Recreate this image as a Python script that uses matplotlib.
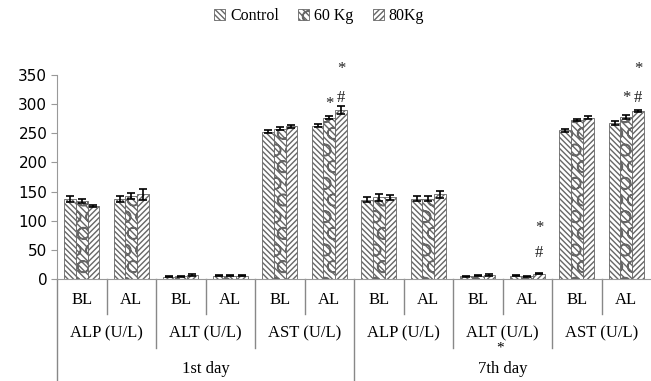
import matplotlib
matplotlib.use("Agg")
import matplotlib.pyplot as plt
import numpy as np

# ---- data ----
series = ["Control", "60 Kg", "80Kg"]
days = ["1st day", "7th day"]
params = ["ALP (U/L)", "ALT (U/L)", "AST (U/L)"]
phases = ["BL", "AL"]

control = [137, 137, 4, 6, 253, 263, 136, 138, 5, 6, 255, 268]
kg60    = [134, 142, 5, 6, 258, 277, 140, 138, 6, 5, 273, 278]
kg80    = [125, 145, 7, 6, 262, 290, 140, 145, 7, 9, 277, 288]
err_control = [5, 5, 1, 1, 3, 3, 4, 4, 1, 1, 3, 3]
err_60      = [4, 5, 1, 1, 3, 3, 6, 4, 1, 1, 2, 3]
err_80      = [2, 9, 1, 1, 3, 7, 4, 6, 1, 1, 3, 2]

# (group index, series index, symbol, height in data units)
annotations = [(5, 1, "*", 300), (5, 2, "#", 310), (5, 2, "*", 360),
               (9, 2, "*", 88), (9, 2, "#", 45),
               (11, 1, "*", 310), (11, 2, "#", 310), (11, 2, "*", 360)]

yticks = [0, 50, 100, 150, 200, 250, 300, 350]

# ---- figure ----
plt.rcParams["hatch.linewidth"] = 1.0
plt.rcParams["hatch.color"] = "#555555"
serif = "Liberation Serif"

fig = plt.figure(figsize=(6.51, 3.81), dpi=100)
ax = fig.add_axes([57/651, (381-279)/381, 1-57/651, (279-75)/381])

values = [control, kg60, kg80]
errs = [err_control, err_60, err_80]
hatches = ["\\\\\\\\\\\\", "\\\\\\\\\\O", "//////"]
n = len(control)
x = np.arange(n)
w = 0.236
handles = []
for i, (vals, e, h, lab) in enumerate(zip(values, errs, hatches, series)):
    b = ax.bar(x + (i-1)*w, vals, w, yerr=e, facecolor="white", edgecolor="#666666",
               hatch=h, linewidth=0.6, label=lab,
               error_kw=dict(ecolor="black", capsize=3, elinewidth=1.2, capthick=1.2))
    handles.append(b)

for g, s, sym, yv in annotations:
    ax.text(g + (s-1)*w, yv, sym, ha="center", va="center", fontsize=12,
            family=serif, color="#222222", clip_on=False)

ax.set_xlim(-0.5, n-0.5)
ax.set_ylim(0, 350)
ax.set_yticks(yticks)
ax.set_yticklabels([str(t) for t in yticks], fontsize=11, family="DejaVu Sans")
ax.set_xticks([])
for sp in ["top", "right"]:
    ax.spines[sp].set_visible(False)
ax.spines["left"].set_color("#999999")
ax.spines["bottom"].set_color("#999999")
ax.tick_params(axis="y", length=4, color="#999999", pad=3)

# ---- category labels below ----
trans = ax.get_xaxis_transform()
def ypix(p):
    return (279 - p) / (279 - 75)

lc = "#888888"
for k in range(n):
    xx = k - 0.5
    if k % 6 == 0:
        y_end = ypix(381)
    elif k % 2 == 0:
        y_end = ypix(348)
    else:
        y_end = ypix(314)
    ax.plot([xx, xx], [0, y_end], transform=trans, color=lc, lw=1.0, clip_on=False)

for k in range(n):
    ax.text(k, ypix(300), phases[k % 2], transform=trans, ha="center", va="center",
            fontsize=12, family=serif)
for k in range(n // 2):
    ax.text(2*k + 0.5, ypix(333), params[k % 3], transform=trans, ha="center",
            va="center", fontsize=12, family=serif)
for k in range(2):
    ax.text(6*k + 2.5, ypix(369), days[k], transform=trans, ha="center",
            va="center", fontsize=12, family=serif)
ax.text(8.45, ypix(348), "*", transform=trans, ha="center", va="center",
        fontsize=11, family=serif)

fig.legend(handles=handles, labels=series, loc="center", bbox_to_anchor=(0.49, 1-16/381),
           ncol=3, frameon=False, prop=dict(family=serif, size=11.5),
           handlelength=0.7, handleheight=0.7, handletextpad=0.3, columnspacing=1.2)

fig.savefig("out.png", dpi=100)
